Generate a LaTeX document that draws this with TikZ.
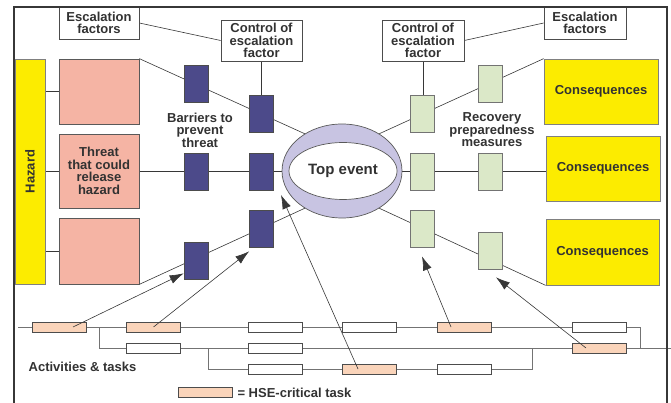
\documentclass[tikz,border=0pt]{standalone}
\usepackage{fontspec}
\setmainfont{Liberation Sans}
\usetikzlibrary{shapes.geometric,arrows.meta,backgrounds}

\definecolor{hazyellow}{RGB}{252,236,0}
\definecolor{threatred}{RGB}{245,180,164}
\definecolor{barblue}{RGB}{76,74,138}
\definecolor{recgreen}{RGB}{219,232,200}
\definecolor{toplilac}{RGB}{200,196,226}
\definecolor{hsepeach}{RGB}{250,212,186}
\definecolor{txtgray}{RGB}{50,50,50}
\definecolor{linegray}{RGB}{55,55,55}
\definecolor{flowgray}{RGB}{115,115,115}

\begin{document}
\begin{tikzpicture}%
        [x=1pt, y=-1pt,
        txt/.style={font=\fontsize{13}{12.5}\selectfont\bfseries, text=txtgray, align=center, inner sep=0pt},
        labelbox/.style={draw=black!70, fill=white, line width=0.7pt, inner sep=0pt},
        hazbox/.style={draw=black!50, fill=hazyellow, line width=0.7pt, inner sep=0pt},
        threatbox/.style={draw=black!65, fill=threatred, line width=0.7pt, minimum width=80, inner sep=0pt},
        barrier/.style={draw=black!70, fill=barblue, line width=0.7pt, minimum width=24, minimum height=37, inner sep=0pt},
        recovery/.style={draw=black!55, fill=recgreen, line width=0.7pt, minimum width=24, minimum height=37, inner sep=0pt},
        consbox/.style={draw=black!50, fill=hazyellow, line width=0.7pt, inner sep=0pt},
        task/.style={draw=black!70, fill=white, line width=0.7pt, minimum width=54, minimum height=10, inner sep=0pt},
        hse/.style={task, fill=hsepeach},
        link/.style={draw=linegray, line width=0.6pt},
        flow/.style={draw=flowgray, line width=0.8pt},
        pointer/.style={draw=linegray, line width=0.6pt, -{Latex[length=14pt,width=9pt]}}]
    \useasboundingbox (0,0) rectangle (671,403);
    %
    %% Escalation factors and their controls
    \node[labelbox, txt, minimum width=80, minimum height=32] (esc1) at (99,23) {Escalation\\factors};
    \node[labelbox, txt, minimum width=81, minimum height=41] (ctl1) at (261.5,40.5) {Control of\\escalation\\factor};
    \node[labelbox, txt, minimum width=82, minimum height=41] (ctl2) at (423,40.5) {Control of\\escalation\\factor};
    \node[labelbox, txt, minimum width=82, minimum height=32] (esc2) at (585,23) {Escalation\\factors};
    %
    %% Hazard and threats
    \node[hazbox, txt, rotate=90, minimum width=225, minimum height=30] (haz) at (30,171.5) {Hazard};
    \node[threatbox, minimum height=65] (thr1) at (99,91.5) {};
    \node[threatbox, txt, minimum height=74] (thr2) at (99,171) {Threat\\that could\\release\\hazard};
    \node[threatbox, minimum height=66] (thr3) at (99,251) {};
    %
    %% Barriers
    \node[barrier] (bar11) at (196,83.5) {};
    \node[barrier] (bar12) at (261.5,113.5) {};
    \node[barrier] (bar21) at (196,171.5) {};
    \node[barrier] (bar22) at (261.5,171.5) {};
    \node[barrier] (bar31) at (196,260.5) {};
    \node[barrier] (bar32) at (261.5,228.5) {};
    \node[txt] (barlbl) at (200,130) {Barriers to\\prevent\\threat};
    %
    %% Top event
    \node[ellipse, draw=black!65, fill=toplilac, line width=0.7pt, minimum width=120, minimum height=94] (top) at (342,171) {};
    \node[ellipse, draw=black!65, fill=white, line width=0.7pt, minimum width=102, minimum height=57,
          font=\fontsize{15}{15}\selectfont\bfseries, text=txtgray] (topin) at (343,171) {Top event};
    %
    %% Recovery measures
    \node[recovery] (rec11) at (422,113.5) {};
    \node[recovery] (rec12) at (490,84) {};
    \node[recovery] (rec21) at (422,171.5) {};
    \node[recovery] (rec22) at (490,171.5) {};
    \node[recovery] (rec31) at (422,228.5) {};
    \node[recovery] (rec32) at (490,250.5) {};
    \node[txt] (reclbl) at (492,130) {Recovery\\preparedness\\measures};
    %
    %% Consequences
    \node[consbox, txt, minimum width=114, minimum height=65] (cons1) at (601,91.5) {Consequences};
    \node[consbox, txt, minimum width=114, minimum height=65] (cons2) at (603,168.5) {Consequences};
    \node[consbox, txt, minimum width=113, minimum height=66] (cons3) at (602.5,252) {Consequences};
    %
    %% Activities and tasks
    \coordinate (r1start) at (18,327);
    \coordinate (r1end) at (640,327);
    \coordinate (r2split) at (99,327);
    \coordinate (r2end) at (671,348);
    \coordinate (r3split) at (208,348);
    \coordinate (r3join) at (532,348);
    \node[hse]  (tA) at (59,327) {};
    \node[hse]  (tB) at (153.5,327) {};
    \node[task] (tC) at (275,327) {};
    \node[task] (tD) at (369.5,327) {};
    \node[hse]  (tE) at (464.5,327) {};
    \node[task] (tF) at (599,327) {};
    \node[task] (tG) at (153.5,348) {};
    \node[task] (tH) at (275,348) {};
    \node[hse]  (tI) at (599,348) {};
    \node[task] (tJ) at (275,369) {};
    \node[hse]  (tK) at (369.5,369) {};
    \node[task] (tL) at (464.5,369) {};
    \node[txt] (actlbl) at (82.5,367) {Activities \& tasks};
    \node[hse] (key) at (205,392.5) {};
    \node[txt, anchor=west] (keylbl) at ([xshift=5pt]key.east) {= HSE-critical task};
    %
    %% Connections, behind the boxes
    \begin{pgfonlayer}{background}
    \draw[link] (esc1.east) -- (ctl1.west);
    \draw[link] (ctl2.east) -- (esc2.west);
    \draw[link] (ctl1.south) -- (bar12.north);
    \draw[link] (ctl2.south) -- (ctl2.south |- rec11.north);
    \draw[link] (thr1.west -| haz.north) -- (thr1.west);
    \draw[link] (thr2.west -| haz.north) -- (thr2.west);
    \draw[link] (thr3.west -| haz.north) -- (thr3.west);
    \draw[link] (thr1.north east) -- (top.135);
    \draw[link] (thr2.east) -- (top.west);
    \draw[link] (thr3.south east) -- (top.225);
    \draw[link] (top.45) -- (cons1.north west);
    \draw[link] (top.east) -- (cons2.west |- top.east);
    \draw[link] (top.315) -- (cons3.south west);
    \draw[flow] (r1start) -- (r1end) -- (r1end |- r2end);
    \draw[flow] (r2split) -- (r2split |- r2end) -- (r2end);
    \draw[flow] (r3split) -- (r3split |- tJ) -- (r3join |- tJ) -- (r3join);
    \end{pgfonlayer}
    %
    %% HSE-critical tasks supporting barriers and recovery
    \coordinate (tip3) at (281,195);
    \draw[pointer] ([xshift=14pt]tA.center) -- ([yshift=6pt]bar31.south west);
    \draw[pointer] (tB.center) -- ([yshift=-4pt]bar32.south west);
    \draw[pointer] ([xshift=-11.5pt]tK.center) -- (tip3);
    \draw[pointer] ([xshift=-13.5pt]tE.center) -- ([yshift=-9pt]rec31.south);
    \draw[pointer] ([xshift=-13pt]tI.center) -- ([xshift=6pt,yshift=-8pt]rec32.south);
    %
    %% Frame
    \draw[line width=1.6pt, draw=linegray] (14,403) -- (14,7) -- (667,7) -- (667,403);
    \end{tikzpicture}
\end{document}
